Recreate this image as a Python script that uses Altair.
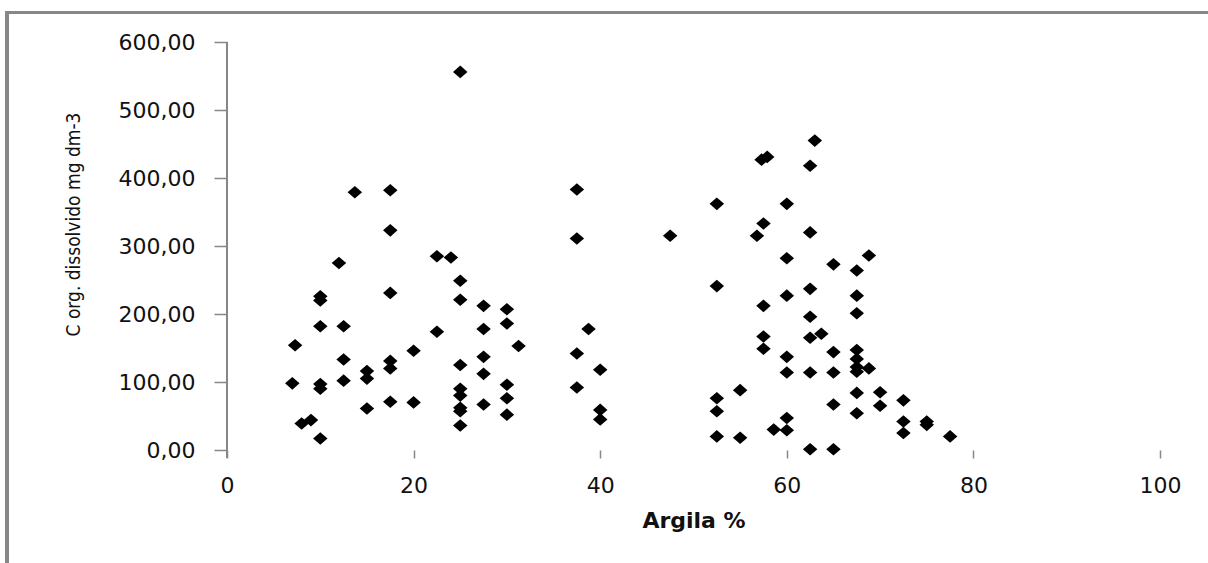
import altair as alt
import pandas as pd

# Argila (%) values
argila = [
    7, 7.3, 8, 9, 10, 10, 10, 10, 10, 10,
    12, 12.5, 12.5, 12.5, 13.7, 15, 15, 15, 17.5, 17.5,
    17.5, 17.5, 17.5, 17.5, 20, 20,
    22.5, 24, 22.5, 25, 25, 25, 25, 25, 25, 25,
    25, 25, 27.5, 27.5, 27.5, 27.5, 27.5, 30, 30, 30,
    30, 30, 31.25, 37.5, 37.5, 37.5, 37.5, 38.75, 40, 40,
    40, 47.5,
    52.5, 52.5, 52.5, 52.5, 52.5, 55, 55, 56.8, 57.3, 57.9,
    57.5, 57.5, 57.5, 57.5, 58.6, 60, 60, 60, 60, 60,
    60, 60, 63, 62.5, 62.5, 62.5, 62.5, 62.5, 63.7, 62.5,
    62.5, 65, 65, 65, 65, 65, 67.5, 67.5, 67.5, 67.5,
    67.5, 67.5, 67.5, 68.8, 68.8, 67.5, 67.5, 70, 70, 72.5,
    72.5, 72.5, 75, 75, 77.5,
]

# C org. dissolvido (mg dm-3) values
corg = [
    98, 154, 39, 44, 220, 226, 182, 97, 90, 17,
    275, 182, 133, 102, 379, 116, 105, 61, 382, 323,
    231, 131, 120, 71, 146, 70,
    285, 283, 174, 556, 249, 221, 125, 90, 80, 62,
    57, 36, 212, 178, 137, 112, 67, 207, 186, 96,
    76, 52, 153, 383, 311, 142, 92, 178, 118, 59,
    45, 315,
    362, 241, 76, 57, 20, 88, 18, 315, 427, 431,
    333, 212, 167, 149, 30, 362, 282, 227, 137, 114,
    47, 29, 455, 418, 320, 237, 196, 165, 171, 114,
    1, 273, 144, 114, 67, 1, 264, 227, 201, 147,
    134, 122, 115, 120, 286, 84, 54, 85, 65, 73,
    42, 25, 42, 37, 20,
]

x_ticks = [0, 20, 40, 60, 80, 100]
y_ticks = [0, 100, 200, 300, 400, 500, 600]

df = pd.DataFrame({"argila": argila, "corg": corg})

W, H = 933, 408
GRAY = "#878787"

points = alt.Chart(df).mark_point(
    shape="M-1,0L0,-0.87L1,0L0,0.87Z",
    filled=True,
    color="black",
    opacity=1,
    size=210,
).encode(
    x=alt.X(
        "argila:Q",
        scale=alt.Scale(domain=[0, 100], nice=False, zero=False),
        axis=alt.Axis(
            values=x_ticks,
            title="Argila %",
            domain=False,
            grid=False,
            ticks=True,
            tickSize=8,
            tickColor=GRAY,
            tickWidth=1.5,
            labelFont="DejaVu Sans",
            labelFontSize=22,
            labelColor="#111",
            labelPadding=17,
            labelFlush=False,
            titleFont="DejaVu Sans",
            titleFontSize=22,
            titleFontWeight="bold",
            titleColor="#111",
            titleBaseline="alphabetic",
            titleY=77,
        ),
    ),
    y=alt.Y(
        "corg:Q",
        scale=alt.Scale(domain=[0, 600], nice=False),
        axis=alt.Axis(
            values=y_ticks,
            labelExpr="replace(format(datum.value, '.2f'), '.', ',')",
            title="C org. dissolvido mg dm-3",
            domain=False,
            grid=False,
            tickSize=13,
            tickColor=GRAY,
            tickWidth=1.5,
            labelFont="DejaVu Sans",
            labelFontSize=22,
            labelColor="#111",
            labelPadding=19,
            labelFlush=False,
            titleFont="DejaVu Sans Condensed, Liberation Sans, sans-serif",
            titleFontSize=19,
            titleFontWeight="normal",
            titleColor="#111",
            titleAngle=-90,
            titleBaseline="alphabetic",
            titleX=-148,
            titleY=182,
            titleAlign="center",
        ),
    ),
)

# vertical axis line (extends slightly below zero, as in the original)
yline = alt.Chart(df).mark_rule(color=GRAY, strokeWidth=2).encode(
    x=alt.value(0), y=alt.value(0), y2=alt.value(H + 8)
)

# outer frame (top and left edges)
frame_top = alt.Chart(df).mark_rule(color=GRAY, strokeWidth=3).encode(
    x=alt.value(-221), x2=alt.value(990), y=alt.value(-29.5)
)
frame_left = alt.Chart(df).mark_rule(color=GRAY, strokeWidth=3).encode(
    x=alt.value(-220), y=alt.value(-31), y2=alt.value(530)
)

chart = alt.layer(frame_top, frame_left, yline, points).properties(
    width=W,
    height=H,
    padding={"left": 227, "top": 42, "right": 48, "bottom": 113},
    autosize=alt.AutoSizeParams(type="none"),
    background="white",
).configure_view(stroke=None)

chart.save("out.html", embed_options={"renderer": "svg", "actions": False})
